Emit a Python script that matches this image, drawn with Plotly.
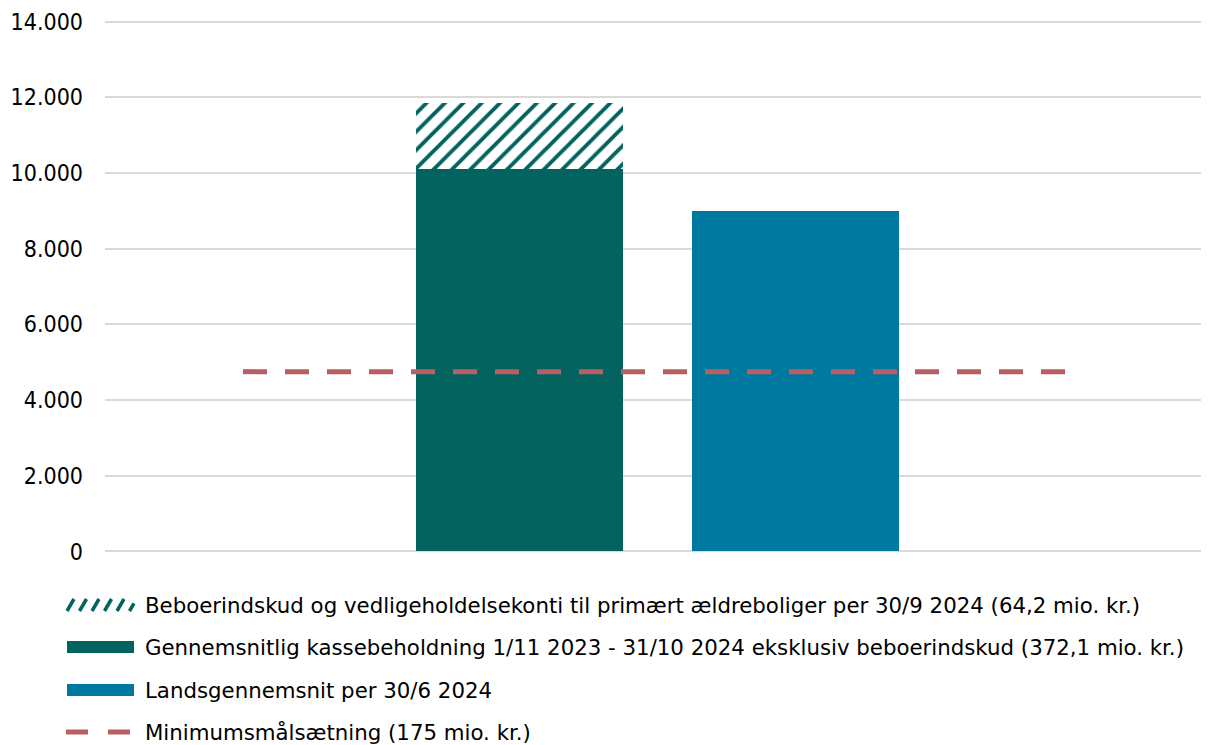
import plotly.graph_objects as go

# ---- data ----
categories = ["", "Boligorganisationen", "Landsgennemsnit", " "]
kasse_values = [None, 10100, None, None]          # Gennemsnitlig kassebeholdning
beboer_values = [None, 1750, None, None]          # Beboerindskud og vedligeholdelsekonti
lands_values = [None, None, 9000, None]           # Landsgennemsnit
minimum_values = [4750, 4750, 4750, 4750]         # Minimumsmålsætning
y_ticks = [0, 2000, 4000, 6000, 8000, 10000, 12000, 14000]

legend_labels = [
    "Beboerindskud og vedligeholdelsekonti til primært ældreboliger per 30/9 2024 (64,2 mio. kr.)",
    "Gennemsnitlig kassebeholdning 1/11 2023 - 31/10 2024 eksklusiv beboerindskud (372,1 mio. kr.)",
    "Landsgennemsnit per 30/6 2024",
    "Minimumsmålsætning (175 mio. kr.)",
]

GREEN = "#02635F"
BLUE = "#0079A1"
RED = "#B95F63"
FONT = "DejaVu Sans Condensed"
LEG_FONT = "DejaVu Sans"

OFF = 8  # page body margin
W, H = 1201, 737
L, R, T, B = 97, 0, 12, 192
PW, PH = W - L - R, H - T - B

def px(x):
    return (x - OFF - L) / PW

def py(y):
    return (H - B - (y - OFF)) / PH

fig = go.Figure()
fig.add_trace(go.Bar(x=categories, y=kasse_values, marker=dict(color=GREEN, line=dict(width=0)),
                     name=legend_labels[1], showlegend=False))
fig.add_trace(go.Bar(x=categories, y=beboer_values,
                     marker=dict(color="white", line=dict(width=0),
                                 pattern=dict(shape="/", fgcolor=GREEN, bgcolor="white",
                                              size=13, solidity=0.3, fillmode="replace")),
                     name=legend_labels[0], showlegend=False))
fig.add_trace(go.Bar(x=categories, y=lands_values, marker=dict(color=BLUE, line=dict(width=0)),
                     name=legend_labels[2], showlegend=False))
fig.add_trace(go.Scatter(x=categories, y=minimum_values, mode="lines",
                         line=dict(color=RED, width=5, dash="24px,18px"),
                         name=legend_labels[3], showlegend=False))

# ---- custom legend ----
shapes = []
annotations = []
rows = [605, 647, 690, 732]
sx0, sx1 = 67, 134
# hatched symbol
for i in range(6):
    x0 = sx0 + i * 12.5
    x1 = min(x0 + 7, sx1)
    shapes.append(dict(type="line", xref="paper", yref="paper",
                       x0=px(x0), x1=px(x1), y0=py(rows[0] + 6), y1=py(rows[0] + 6 - 12 * (x1 - x0) / 7),
                       line=dict(color=GREEN, width=3.5)))
# solid symbols
for r, c in [(rows[1], GREEN), (rows[2], BLUE)]:
    shapes.append(dict(type="rect", xref="paper", yref="paper",
                       x0=px(sx0), x1=px(sx1), y0=py(r - 6), y1=py(r + 6),
                       fillcolor=c, line=dict(width=0)))
# dashed symbol
for a, b in [(66, 88), (108, 130)]:
    shapes.append(dict(type="line", xref="paper", yref="paper",
                       x0=px(a), x1=px(b), y0=py(rows[3]), y1=py(rows[3]),
                       line=dict(color=RED, width=5)))
for r, lab in zip(rows, legend_labels):
    annotations.append(dict(text=lab, xref="paper", yref="paper", x=px(143), y=py(r),
                            xanchor="left", yanchor="middle", showarrow=False,
                            font=dict(family=LEG_FONT, size=21.3, color="#000000")))

fig.update_layout(
    width=W, height=H,
    margin=dict(l=L, r=R, t=T, b=B, pad=0),
    paper_bgcolor="white", plot_bgcolor="white",
    barmode="stack", bargap=0.25,
    separators=",.",
    font=dict(family=FONT, size=20, color="#000000"),
    shapes=shapes, annotations=annotations,
    showlegend=False,
)
fig.update_xaxes(type="category", categoryorder="array", categoryarray=categories,
                 showticklabels=False, showgrid=False, zeroline=False, showline=False,
                 range=[-0.5, 3.5])
fig.update_yaxes(range=[-40, 14040], tickvals=y_ticks, tickformat=",d",
                 showgrid=True, gridcolor="#D9D9D9", gridwidth=1.5,
                 zeroline=False, showline=False, ticks="", ticklabelstandoff=21,
                 tickfont=dict(family=FONT, size=23, color="#000000"))

fig.write_html("out.html")
